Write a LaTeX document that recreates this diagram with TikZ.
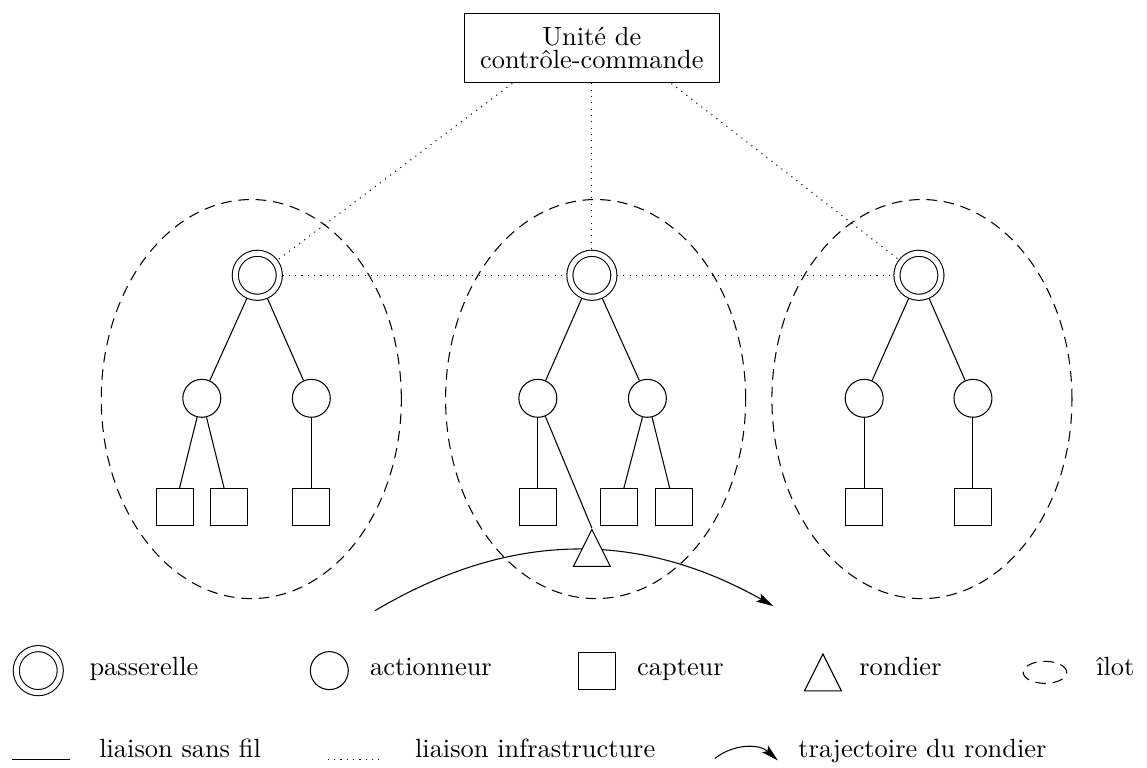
\documentclass[tikz,border=0pt]{standalone}
\usepackage{fontspec}
\usepackage{tikz}
\usetikzlibrary{shapes.geometric,arrows.meta}

\tikzset{
  passerelle/.style={circle, draw, double, double distance=1.9pt, minimum size=16.7pt, inner sep=0pt, outer sep=1.2pt},
  actionneur/.style={circle, draw, minimum size=14.4pt, inner sep=0pt},
  capteur/.style={rectangle, draw, minimum size=14pt, inner sep=0pt},
  rondier/.style={isosceles triangle, isosceles triangle stretches, shape border rotate=90, draw, fill=white, minimum width=14pt, minimum height=14pt, inner sep=0pt},
  ilot/.style={dash pattern=on 4pt off 2.6pt},
  infra/.style={dotted},
  traj/.style={-{Stealth[length=6.5pt,width=3.4pt,inset=1.2pt]}}
}

\begin{document}
\begin{tikzpicture}
\useasboundingbox (0,0) rectangle (15.29,10.23);

% les ilots
\draw [ilot] (3.35,4.91) ellipse [x radius=2, y radius=2.66];
\draw [ilot] (7.94,4.91) ellipse [x radius=2, y radius=2.66];
\draw [ilot] (12.29,4.91) ellipse [x radius=2, y radius=2.66];

\node [draw, align=center, minimum width=3.39cm, minimum height=0.93cm] (ucc) at (7.89,9.59) {Unité de\\[-3.3pt] contrôle-commande};

\node [passerelle] (g1) at (3.43,6.56) {};
\node [passerelle] (g2) at (7.89,6.56) {};
\node [passerelle] (g3) at (12.25,6.56) {};

\node [actionneur] (a1) at (2.69,4.92) {};
\node [actionneur] (a2) at (4.15,4.92) {};
\node [actionneur] (a3) at (7.17,4.92) {};
\node [actionneur] (a4) at (8.63,4.92) {};
\node [actionneur] (a5) at (11.52,4.92) {};
\node [actionneur] (a6) at (12.97,4.92) {};

\node [capteur] (s1) at (2.33,3.47) {};
\node [capteur] (s2) at (3.05,3.47) {};
\node [capteur] (s3) at (4.15,3.47) {};
\node [capteur] (s4) at (7.17,3.47) {};
\node [capteur] (s5) at (8.25,3.47) {};
\node [capteur] (s6) at (8.99,3.47) {};
\node [capteur] (s7) at (11.52,3.47) {};
\node [capteur] (s8) at (12.97,3.47) {};

% liaisons infrastructure
\draw [infra] (ucc.204) -- (g1);
\draw [infra] (ucc) -- (g2);
\draw [infra] (ucc.336) -- (g3);
\draw [infra] (g1) -- (g2) -- (g3);

% liaisons sans fil
\draw (g1) -- (a1);
\draw (g1) -- (a2);
\draw (g2) -- (a3);
\draw (g2) -- (a4);
\draw (g3) -- (a5);
\draw (g3) -- (a6);
\draw (a1) -- (s1);
\draw (a1) -- (s2);
\draw (a2) -- (s3);
\draw (a3) -- (s4);
\draw (a4) -- (s5);
\draw (a4) -- (s6);
\draw (a5) -- (s7);
\draw (a6) -- (s8);

% trajectoire
\coordinate (t0) at (5.0,2.09);
\coordinate (t1) at (10.31,2.15);
\draw [traj] (t0) to [bend left=30] (t1);
\node [rondier, anchor=apex] (r) at (7.89,3.19) {};
\draw (a3) -- (r.apex);

% legende
\node [passerelle] (lp) at (0.51,1.29) {};
\node [anchor=base west] at (1.07,1.227) {passerelle};
\node [actionneur] (la) at (4.39,1.29) {};
\node [anchor=base west] at (4.81,1.227) {actionneur};
\node [capteur] (lc) at (7.96,1.29) {};
\node [anchor=base west] at (8.37,1.227) {capteur};
\node [rondier, anchor=apex] (lr) at (10.97,1.53) {};
\node [anchor=base west] at (11.33,1.227) {rondier};
\draw [ilot] (13.93,1.267) ellipse [x radius=0.29, y radius=0.147];
\node [anchor=base west] at (14.49,1.227) {îlot};

\draw (0.16,0.107) -- (0.93,0.107);
\node [anchor=base west] at (1.2,0.133) {liaison sans fil};
\draw [infra] (4.37,0.107) -- (5.11,0.107);
\node [anchor=base west] at (5.41,0.133) {liaison infrastructure};
\draw [traj] (9.53,0.12) to [bend left=40] (10.37,0.093);
\node [anchor=base west] at (10.52,0.133) {trajectoire du rondier};
\end{tikzpicture}
\end{document}
